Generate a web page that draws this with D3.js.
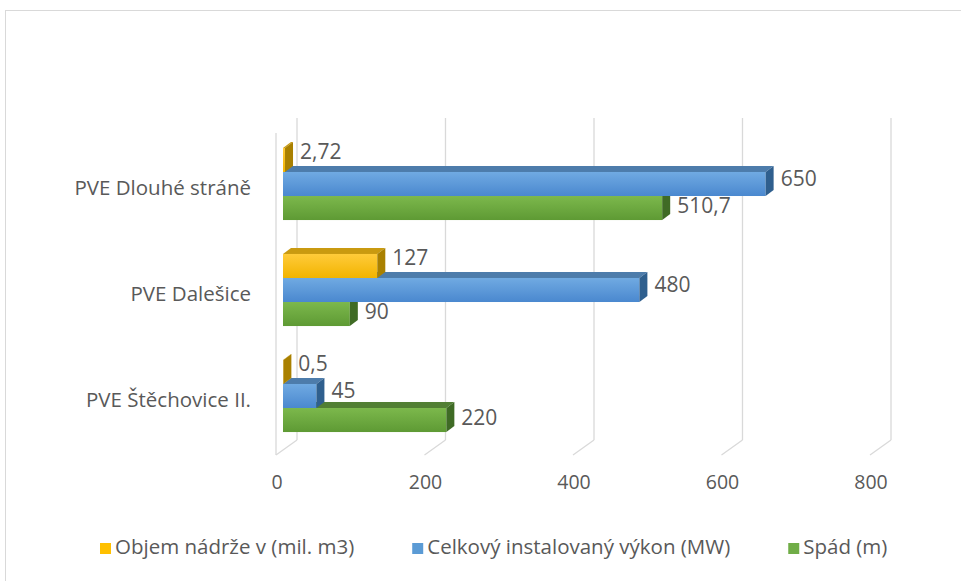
<!DOCTYPE html>
<html lang="cs">
<head>
<meta charset="UTF-8">
<title>PVE – 3D pruhový graf</title>
<script src="https://d3js.org/d3.v7.min.js"></script>
<style>
    html, body { margin: 0; padding: 0; background: #fff; }
    svg { display: block; }
    text { font-family: "Open Sans", "Noto Sans", sans-serif; fill: #595959; }
</style>
</head>
<body>
<svg id="chart" width="961" height="581"></svg>
<script>
// data
const categories = ["PVE Dlouhé stráně", "PVE Dalešice", "PVE Štěchovice II."];
const seriesNames = ["Objem nádrže v (mil. m3)", "Celkový instalovaný výkon (MW)", "Spád (m)"];
const objem = [2.72, 127, 0.5];
const vykon = [650, 480, 45];
const spad = [510.7, 90, 220];
const tickValues = [0, 200, 400, 600, 800];

const seriesValues = [objem, vykon, spad];

// colours: front gradient top/bottom, top face, side face
const palette = [
    { top: "#ffcb3a", bottom: "#f2b400", roof: "#c99a10", side: "#a98000", key: "#ffc000" },
    { top: "#70aae2", bottom: "#4a88cf", roof: "#4d7cab", side: "#2f5f8e", key: "#5b9bd5" },
    { top: "#7cb84c", bottom: "#5e9a34", roof: "#527f34", side: "#3f6b25", key: "#70ad47" }
];

const svg = d3.select("#chart");

// frame
svg.append("rect")
    .attr("x", 5.5).attr("y", 10.5)
    .attr("width", 970).attr("height", 590)
    .attr("fill", "none").attr("stroke", "#d9d9d9");

// oblique 3D geometry
const depthX = 21, depthY = -15;      // front floor -> back wall
const frontX0 = 276, backX0 = frontX0 + depthX;
const backTop = 118, backBottom = 440;
const barX0 = 283;                      // bar front plane
const barDX = 8, barDY = -6;            // bar depth

const x = d3.scaleLinear().domain([0, 800]).range([0, 594]);

const y0 = d3.scaleBand()
    .domain(categories)
    .range([131, 449])
    .paddingInner(0.32)
    .paddingOuter(0.16);

const y1 = d3.scaleBand()
    .domain(seriesNames)
    .range([0, y0.bandwidth()]);

const defs = svg.append("defs");
palette.forEach((p, i) => {
    const g = defs.append("linearGradient")
        .attr("id", "grad" + i)
        .attr("x1", 0).attr("y1", 0).attr("x2", 0).attr("y2", 1);
    g.append("stop").attr("offset", "0%").attr("stop-color", p.top);
    g.append("stop").attr("offset", "100%").attr("stop-color", p.bottom);
});

// back wall gridlines + floor diagonals
const grid = svg.append("g").attr("stroke", "#d9d9d9").attr("stroke-width", 1.3).attr("fill", "none");
tickValues.forEach(t => {
    const bx = backX0 + x(t);
    grid.append("line")
        .attr("x1", bx).attr("y1", backTop)
        .attr("x2", bx).attr("y2", backBottom);
    grid.append("line")
        .attr("x1", bx).attr("y1", backBottom)
        .attr("x2", bx - depthX).attr("y2", backBottom - depthY);
});
// left wall front edge
grid.append("line")
    .attr("x1", frontX0).attr("y1", backTop - depthY)
    .attr("x2", frontX0).attr("y2", backBottom - depthY);

// tick labels on front floor edge
svg.append("g").selectAll("text")
    .data(tickValues)
    .join("text")
    .attr("x", d => frontX0 + 1 + x(d))
    .attr("y", 484)
    .attr("text-anchor", "middle")
    .attr("dominant-baseline", "middle")
    .attr("font-size", 19.5)
    .text(d => d);

// category labels
svg.append("g").selectAll("text")
    .data(categories)
    .join("text")
    .attr("x", 251)
    .attr("y", d => y0(d) + y0.bandwidth() / 2 + 6)
    .attr("text-anchor", "end")
    .attr("dominant-baseline", "middle")
    .attr("font-size", 20.5)
    .text(d => d);

// bars: draw bottom series first so upper bars cover their top faces
const labelShift = [-7, -4, -1];
const fmt = v => String(v).replace(".", ",");

const bars = svg.append("g");
categories.forEach((cat, ci) => {
    for (let si = seriesNames.length - 1; si >= 0; si--) {
        const v = seriesValues[si][ci];
        const p = palette[si];
        const yy = y0(cat) + y1(seriesNames[si]);
        const h = y1.bandwidth();
        const xa = barX0, xb = barX0 + x(v);
        const g = bars.append("g");
        g.append("polygon")
            .attr("points", [[xa, yy], [xa + barDX, yy + barDY], [xb + barDX, yy + barDY], [xb, yy]].join(" "))
            .attr("fill", p.roof);
        g.append("rect")
            .attr("x", xa).attr("y", yy)
            .attr("width", xb - xa).attr("height", h)
            .attr("fill", `url(#grad${si})`);
        g.append("polygon")
            .attr("points", [[xb, yy], [xb + barDX, yy + barDY], [xb + barDX, yy + h + barDY], [xb, yy + h]].join(" "))
            .attr("fill", p.side);
        g.append("text")
            .attr("x", xb + barDX + 7)
            .attr("y", yy + h / 2 + labelShift[si])
            .attr("dominant-baseline", "middle")
            .attr("font-size", 21)
            .text(fmt(v));
    }
});

// legend
const legend = svg.append("g").attr("transform", "translate(100,549)");
let lx = 0;
seriesNames.forEach((name, i) => {
    const item = legend.append("g").attr("transform", `translate(${lx},0)`);
    item.append("rect")
        .attr("x", 0).attr("y", -6)
        .attr("width", 11).attr("height", 11)
        .attr("fill", palette[i].key);
    const t = item.append("text")
        .attr("x", 15).attr("y", 0)
        .attr("dominant-baseline", "middle")
        .attr("font-size", 20.5)
        .text(name);
    lx += 15 + t.node().getComputedTextLength() + 58;
});
</script>
</body>
</html>
